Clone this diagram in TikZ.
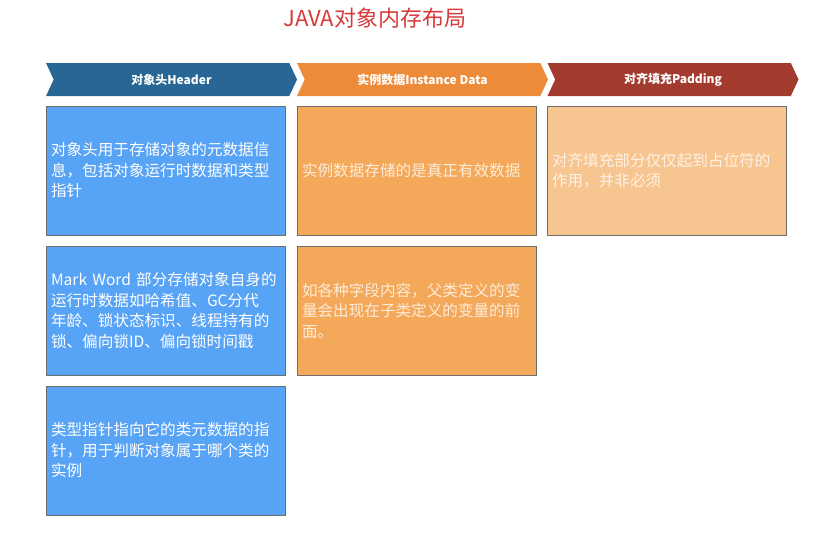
\documentclass[tikz,border=0pt]{standalone}
\usepackage{fontspec}
\setmainfont{Noto Sans CJK SC}
\usepackage{xcolor}
\usepackage{tikz}
\usetikzlibrary{
  shapes.symbols,
  positioning
}
\definecolor{titlered}{RGB}{214,58,58}
\definecolor{headblue}{RGB}{39,102,149}
\definecolor{headorange}{RGB}{238,139,56}
\definecolor{headred}{RGB}{163,58,46}
\definecolor{boxblue}{RGB}{87,163,245}
\definecolor{boxorange}{RGB}{243,168,90}
\definecolor{boxpeach}{RGB}{247,197,144}
\definecolor{boxgray}{RGB}{110,110,110}

\begin{document}
\begin{tikzpicture}[x=1pt, y=-1pt,
  headarrow/.style={signal, signal to=east, signal from=west, signal pointer angle=130, minimum width=251pt, minimum height=33pt, inner sep=0pt, text=white, font=\fontsize{12}{14}\selectfont\bfseries},
  infobox/.style={rectangle, draw=boxgray, line width=1pt, minimum width=239pt, minimum height=129pt, text width=229pt, inner sep=5pt, align=left, font=\fontsize{15.6}{20.5}\selectfont}
]
  \useasboundingbox (0,0) rectangle (814,533);

  \node[text=titlered, font=\fontsize{22}{24}\selectfont] (title) at (375,18) {JAVA对象内存布局};

  % header arrows
  \node[headarrow, fill=headblue] (header) at (171.5,79.5) {对象头Header};
  \node[headarrow, fill=headorange] (data) at (422.5,79.5) {实例数据Instance Data};
  \node[headarrow, fill=headred] (padding) at (673,79.5) {对齐填充Padding};

  % object header
  \node[infobox, fill=boxblue, text=white] (hdrA) at (165.5,170.5)
    {对象头用于存储对象的元数据信\\息，包括对象运行时数据和类型\\指针};
  \node[infobox, fill=boxblue, text=white, below=10pt of hdrA] (hdrB)
    {Mark~Word~部分存储对象自身的\\运行时数据如哈希值、GC分代\\年龄、锁状态标识、线程持有的\\锁、偏向锁ID、偏向锁时间戳};
  \node[infobox, fill=boxblue, text=white, below=10pt of hdrB] (hdrC)
    {类型指针指向它的类元数据的指\\针，用于判断对象属于哪个类的\\实例};

  % instance data
  \node[infobox, fill=boxorange, text=white!85!orange, right=11pt of hdrA] (dataA)
    {实例数据存储的是真正有效数据};
  \node[infobox, fill=boxorange, text=white!85!orange, below=10pt of dataA] (dataB)
    {如各种字段内容，父类定义的变\\量会出现在子类定义的变量的前\\面。};

  % padding
  \node[infobox, fill=boxpeach, text=white!90!orange, right=10pt of dataA] (padA)
    {对齐填充部分仅仅起到占位符的\\作用，并非必须};
\end{tikzpicture}
\end{document}
